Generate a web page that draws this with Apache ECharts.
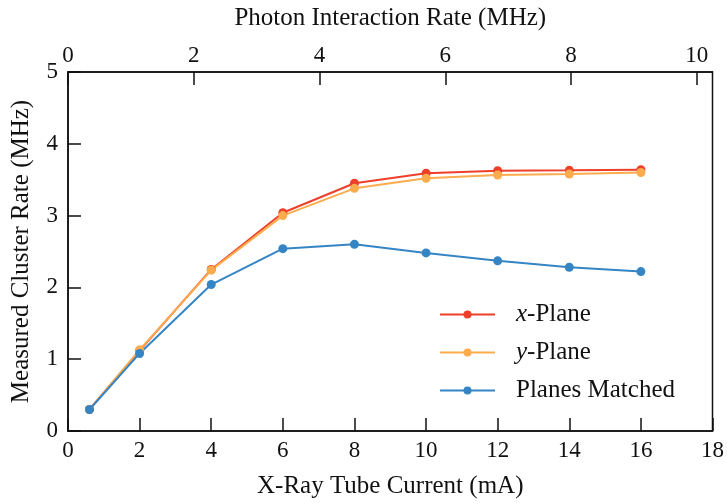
<!DOCTYPE html>
<html>
<head>
<meta charset="utf-8">
<script src="https://cdn.jsdelivr.net/npm/echarts@6/dist/echarts.min.js"></script>
<style>html,body{margin:0;padding:0;background:#fff}#c{width:727px;height:504px}</style>
</head>
<body>
<div id="c"></div>
<script>
const current = [0.6, 2, 4, 6, 8, 10, 12, 14, 16];
const xPlane = [0.30, 1.12, 2.25, 3.04, 3.45, 3.59, 3.625, 3.63, 3.64];
const yPlane = [0.30, 1.13, 2.24, 3.00, 3.38, 3.52, 3.565, 3.58, 3.60];
const matched = [0.30, 1.08, 2.04, 2.54, 2.60, 2.48, 2.37, 2.28, 2.22];
const seriesNames = ['x-Plane', 'y-Plane', 'Planes Matched'];
const colors = ['#ee3f2b', '#fcac4c', '#3585c4'];

const font = 'Liberation Serif';
const txt = '#111';
const chart = echarts.init(document.getElementById('c'), null, {renderer: 'canvas'});
const pairs = a => current.map((c, i) => [c, a[i]]);
const mk = (name, data, color) => ({
  name, type: 'line', data: pairs(data), color,
  symbol: 'circle', symbolSize: 9,
  lineStyle: {width: 2, color}, itemStyle: {color},
  emphasis: {disabled: true}, animation: false
});
chart.setOption({
  animation: false,
  textStyle: {fontFamily: font, color: txt},
  grid: {left: 68, right: 14, top: 72, bottom: 72, show: true, borderColor: '#111', borderWidth: 1.5, backgroundColor: 'transparent'},
  legend: {
    orient: 'vertical', left: 434, top: 297, itemWidth: 55, itemHeight: 10, itemGap: 13,
    data: seriesNames,
    textStyle: {fontFamily: font, fontSize: 25, color: txt, padding: [0, 0, 0, 16],
      rich: {i: {fontFamily: font, fontStyle: 'italic', fontSize: 25, color: txt}}},
    formatter: n => n === 'x-Plane' ? '{i|x}-Plane' : (n === 'y-Plane' ? '{i|y}-Plane' : n)
  },
  xAxis: [{
    type: 'value', min: 0, max: 18, interval: 2, position: 'bottom',
    name: 'X-Ray Tube Current (mA)', nameLocation: 'middle', nameGap: 43,
    nameTextStyle: {fontFamily: font, fontSize: 25, color: txt},
    axisLine: {lineStyle: {color: '#111', width: 1.5}},
    axisTick: {inside: true, length: 13, lineStyle: {color: '#111', width: 1.5}},
    axisLabel: {fontFamily: font, fontSize: 23, color: txt, margin: 8},
    splitLine: {show: false}
  }, {
    type: 'value', min: 0, max: 10.25, interval: 2, position: 'top',
    name: 'Photon Interaction Rate (MHz)', nameLocation: 'middle', nameGap: 41,
    nameTextStyle: {fontFamily: font, fontSize: 25, color: txt},
    axisLine: {lineStyle: {color: '#111', width: 1.5}},
    axisTick: {inside: true, length: 13, lineStyle: {color: '#111', width: 1.5}},
    axisLabel: {fontFamily: font, fontSize: 23, color: txt, margin: 5, showMaxLabel: false},
    splitLine: {show: false}
  }],
  yAxis: {
    type: 'value', min: 0, max: 5, interval: 1,
    name: 'Measured Cluster Rate (MHz)', nameLocation: 'middle', nameGap: 34,
    nameTextStyle: {fontFamily: font, fontSize: 25, color: txt},
    axisLine: {show: true, lineStyle: {color: '#111', width: 1.5}},
    axisTick: {show: true, inside: true, length: 13, lineStyle: {color: '#111', width: 1.5}},
    axisLabel: {fontFamily: font, fontSize: 23, color: txt, margin: 10},
    splitLine: {show: false}
  },
  series: [
    mk(seriesNames[0], xPlane, colors[0]),
    mk(seriesNames[1], yPlane, colors[1]),
    mk(seriesNames[2], matched, colors[2])
  ]
});
</script>
</body>
</html>
